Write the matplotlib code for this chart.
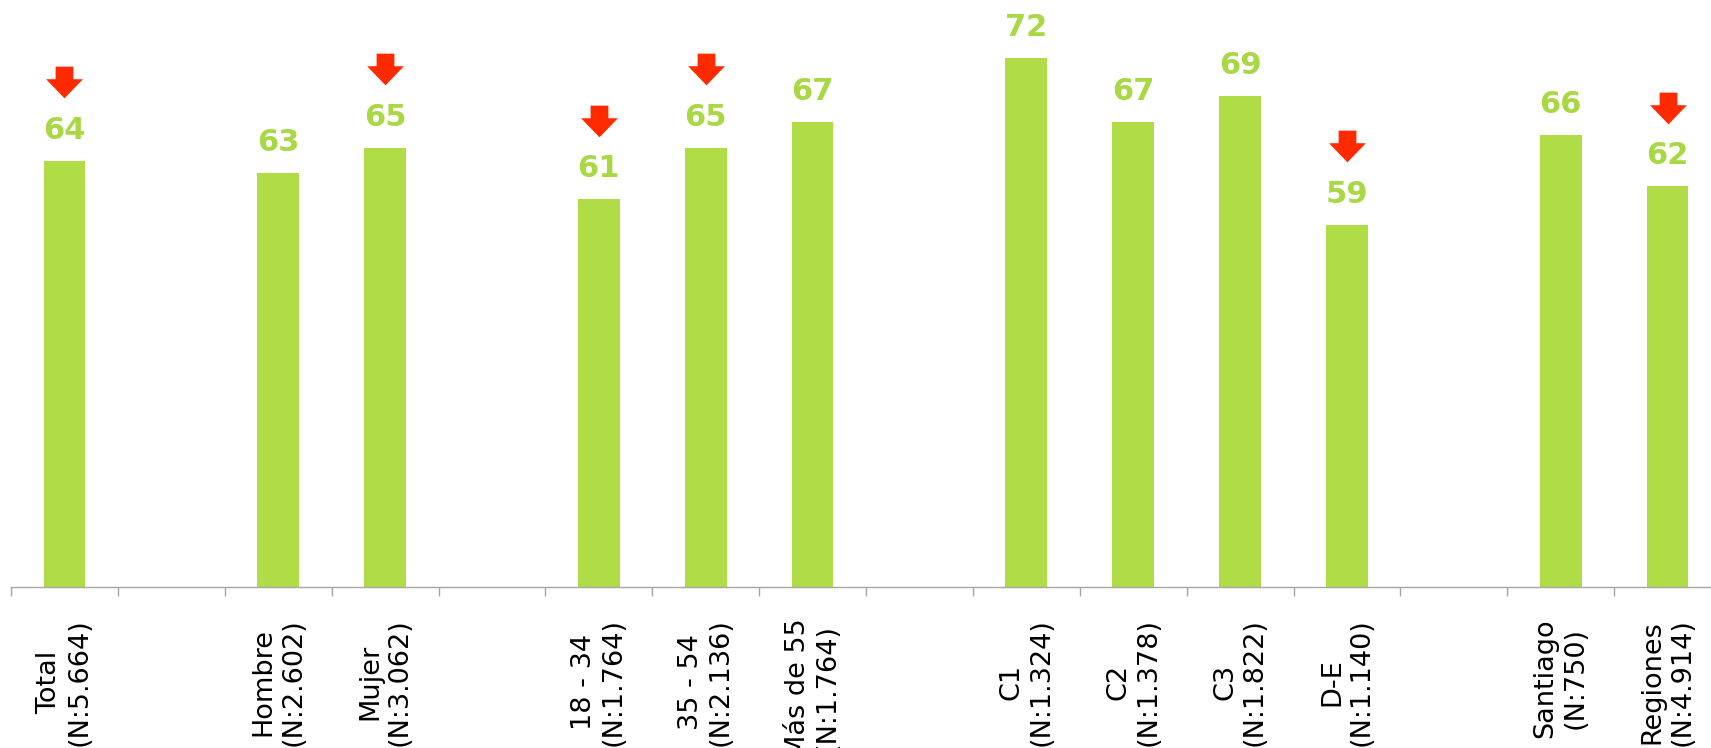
import matplotlib
matplotlib.use('Agg')
import matplotlib.pyplot as plt
from matplotlib.path import Path
from matplotlib.transforms import ScaledTranslation
import numpy as np

# data (empty slots are the gaps between groups)
categories = ['Total', '', 'Hombre', 'Mujer', '', '18 - 34', '35 - 54', 'Más de 55', '',
              'C1', 'C2', 'C3', 'D-E', '', 'Santiago', 'Regiones']
sample_sizes = ['5.664', '', '2.602', '3.062', '', '1.764', '2.136', '1.764', '',
                '1.324', '1.378', '1.822', '1.140', '', '750', '4.914']
values = [64, None, 63, 65, None, 61, 65, 67, None, 72, 67, 69, 59, None, 66, 62]
decrease = [True, False, False, True, False, True, True, False, False,
            False, False, False, True, False, False, True]

bar_color = '#B0DC45'
label_color = '#A8D843'
arrow_color = '#FF2A00'
axis_color = '#A6A6A6'

plt.rcParams['font.family'] = ['DejaVu Sans']

fig = plt.figure(figsize=(17.11, 7.48), dpi=100)
ax = fig.add_axes([11 / 1711, 161 / 748, 1710 / 1711, 587 / 748])

x = np.arange(len(categories))
heights = [np.nan if v is None else v for v in values]
ax.bar(x, heights, width=0.39, color=bar_color)

ax.set_xlim(-0.5, len(categories) - 0.5)
ax.set_ylim(30.8, 76.5)

# value labels
for xi, v in zip(x, values):
    if v is None:
        continue
    ax.annotate(f'{v:.0f}', xy=(xi, v), xytext=(0, 15.8), textcoords='offset points',
                ha='center', va='baseline', fontsize=22, fontweight='bold',
                color=label_color)

# red down arrows for significant decreases (shape in pixels, tip at bottom)
arrow_verts = [(-8.7, 15.5), (8.7, 15.5), (8.7, 3.2), (18, 3.2), (0, -15.5),
               (-18, 3.2), (-8.7, 3.2), (-8.7, 15.5)]
arrow_marker = Path(arrow_verts, closed=True)
shift = ScaledTranslation(0, (63 + 15.5) / 100, fig.dpi_scale_trans)
for xi, v, d in zip(x, values, decrease):
    if v is None or not d:
        continue
    ax.plot([xi], [v], marker=arrow_marker, markersize=26.5, color=arrow_color,
            markeredgewidth=0, linestyle='none', transform=ax.transData + shift,
            clip_on=False)

# axis styling
for side in ['left', 'right', 'top']:
    ax.spines[side].set_visible(False)
ax.spines['bottom'].set_color(axis_color)
ax.spines['bottom'].set_linewidth(1.0)
ax.set_yticks([])

tick_labels = [f'{c}\n(N:{n})' if c else '' for c, n in zip(categories, sample_sizes)]
ax.set_xticks(x)
ax.set_xticklabels(tick_labels, rotation=90, ha='center', va='top',
                   multialignment='center', fontsize=19.5, linespacing=1.2)
ax.set_xticks(np.arange(-0.5, len(categories)), minor=True)
ax.tick_params(axis='x', which='major', length=0, pad=22.5)
ax.tick_params(axis='x', which='minor', length=6.5, width=1.0, color=axis_color)

fig.savefig('out.png', dpi=100)
